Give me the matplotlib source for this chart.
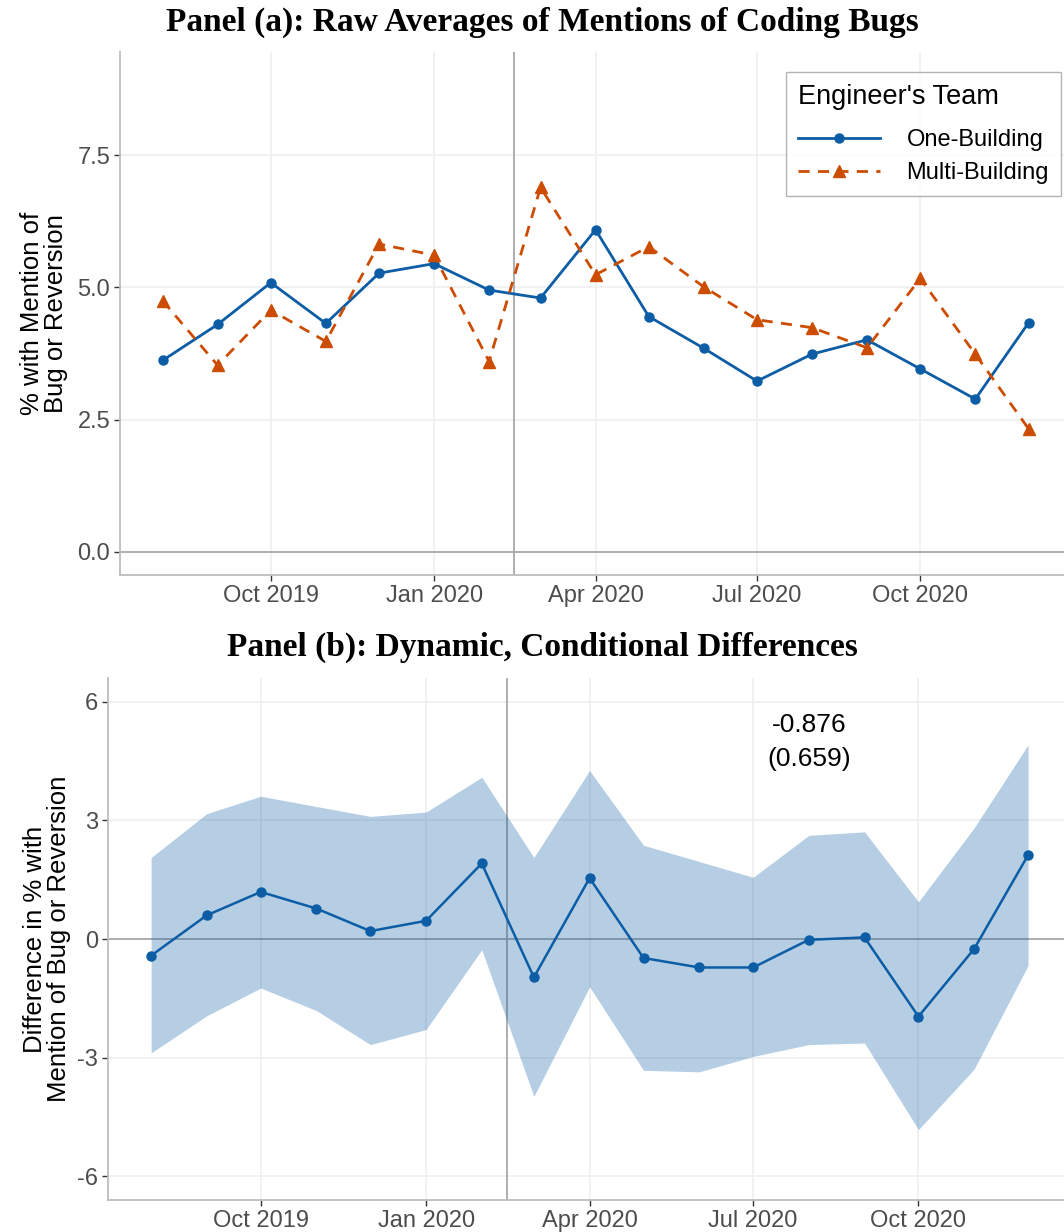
import pandas as pd
import matplotlib
matplotlib.use("Agg")
import matplotlib.pyplot as plt
import matplotlib.dates as mdates

plt.rcParams['font.family'] = ['Liberation Sans', 'DejaVu Sans']
plt.rcParams['axes.unicode_minus'] = False

# monthly observations, Aug 2019 - Dec 2020
months = pd.date_range("2019-08-01", "2020-12-01", freq="MS")

one_building = [3.62, 4.30, 5.09, 4.32, 5.27, 5.45, 4.95, 4.80, 6.09,
                4.45, 3.85, 3.23, 3.74, 4.01, 3.46, 2.89, 4.33]
multi_building = [4.75, 3.53, 4.57, 3.98, 5.82, 5.61, 3.60, 6.89, 5.24,
                  5.77, 5.01, 4.39, 4.24, 3.86, 5.17, 3.74, 2.33]

diff_est = [-0.42, 0.60, 1.19, 0.77, 0.20, 0.46, 1.91, -0.97, 1.54,
            -0.48, -0.72, -0.72, -0.02, 0.04, -1.96, -0.25, 2.12]
diff_hi = [2.06, 3.17, 3.61, 3.35, 3.10, 3.21, 4.09, 2.06, 4.26,
           2.37, 1.96, 1.56, 2.62, 2.71, 0.94, 2.81, 4.91]
diff_lo = [-2.88, -1.94, -1.24, -1.81, -2.67, -2.29, -0.27, -3.98, -1.21,
           -3.32, -3.36, -2.97, -2.67, -2.63, -4.82, -3.29, -0.67]

event_date = pd.Timestamp("2020-02-15")
pooled_text = "-0.876\n(0.659)"

blue = "#0C5DA5"
orange = "#CC4C02"
grid_col = "#EFEFEF"
ref_col = "#A8A8A8"
tick_col = "#4D4D4D"

fig = plt.figure(figsize=(10.64, 12.32), dpi=100)
ax1 = fig.add_axes([120/1064, 1 - 575/1232, 1 - 120/1064, 523/1232])
ax2 = fig.add_axes([108/1064, 1 - 1200/1232, 1 - 108/1064, 522/1232])

xmin = months[0] - pd.Timedelta(days=24)
xmax = months[-1] + pd.Timedelta(days=20)
qticks = pd.to_datetime(["2019-10-01", "2020-01-01", "2020-04-01",
                         "2020-07-01", "2020-10-01"])


def style_axis(ax):
    ax.set_xlim(xmin, xmax)
    ax.set_xticks(qticks)
    ax.xaxis.set_major_formatter(mdates.DateFormatter("%b %Y"))
    ax.grid(True, color=grid_col, linewidth=1.2, zorder=0)
    ax.set_axisbelow(True)
    for s in ["top", "right"]:
        ax.spines[s].set_visible(False)
    for s in ["left", "bottom"]:
        ax.spines[s].set_color("#BDBDBD")
        ax.spines[s].set_linewidth(1.3)
    ax.tick_params(axis="both", colors="#333333", labelcolor=tick_col,
                   labelsize=17, length=4, width=1, pad=3)
    ax.axhline(0, color=ref_col, linewidth=1.3, zorder=1)
    ax.axvline(event_date, color=ref_col, linewidth=1.3, zorder=1)


# Panel (a)
style_axis(ax1)
ax1.plot(months, one_building, color=blue, linewidth=2, marker="o",
         markersize=6.5, label="One-Building", zorder=3)
ax1.plot(months, multi_building, color=orange, linewidth=2, linestyle=(0, (4, 3)),
         marker="^", markersize=8.5, label="Multi-Building", zorder=3)
ax1.set_ylim(-0.435, 9.45)
ax1.set_yticks([0, 2.5, 5, 7.5])
ax1.set_yticklabels(["0.0", "2.5", "5.0", "7.5"])
ax1.set_ylabel("% with Mention of\nBug or Reversion", fontsize=18.5, linespacing=1.0)
ax1.yaxis.set_label_coords((68 - 120) / 944, 0.5)
leg = ax1.legend(title="Engineer's Team", loc="upper left",
                 bbox_to_anchor=(786/1064, 1 - 72/1232), bbox_transform=fig.transFigure,
                 borderaxespad=0, fontsize=17, title_fontsize=19.5, frameon=True,
                 fancybox=False, handlelength=3.5, borderpad=0.5, labelspacing=0.45,
                 handletextpad=1.1)
leg._legend_box.align = "left"
leg._legend_box.sep = 14
leg.get_frame().set_edgecolor("#A0A0A0")
leg.get_frame().set_linewidth(1.0)

# Panel (b)
style_axis(ax2)
ax2.fill_between(months, diff_lo, diff_hi, color=blue, alpha=0.3, linewidth=0, zorder=2)
ax2.plot(months, diff_est, color=blue, linewidth=1.8, marker="o", markersize=6.5, zorder=3)
ax2.set_ylim(-6.6, 6.6)
ax2.set_yticks([-6, -3, 0, 3, 6])
ax2.set_ylabel("Difference in % with\nMention of Bug or Reversion", fontsize=18.5, linespacing=1.0)
ax2.yaxis.set_label_coords((71 - 108) / 956, 0.5)
ax2.text(pd.Timestamp("2020-08-01"), 4.98, pooled_text, ha="center", va="center",
         fontsize=19, linespacing=1.5)

fig.text(542/1064, 1 - 22/1232, "Panel (a): Raw Averages of Mentions of Coding Bugs",
         ha="center", va="center", fontsize=24, fontweight="bold", family="Liberation Serif")
fig.text(542/1064, 1 - 647/1232, "Panel (b): Dynamic, Conditional Differences",
         ha="center", va="center", fontsize=24, fontweight="bold", family="Liberation Serif")

fig.savefig("out.png", dpi=100)
